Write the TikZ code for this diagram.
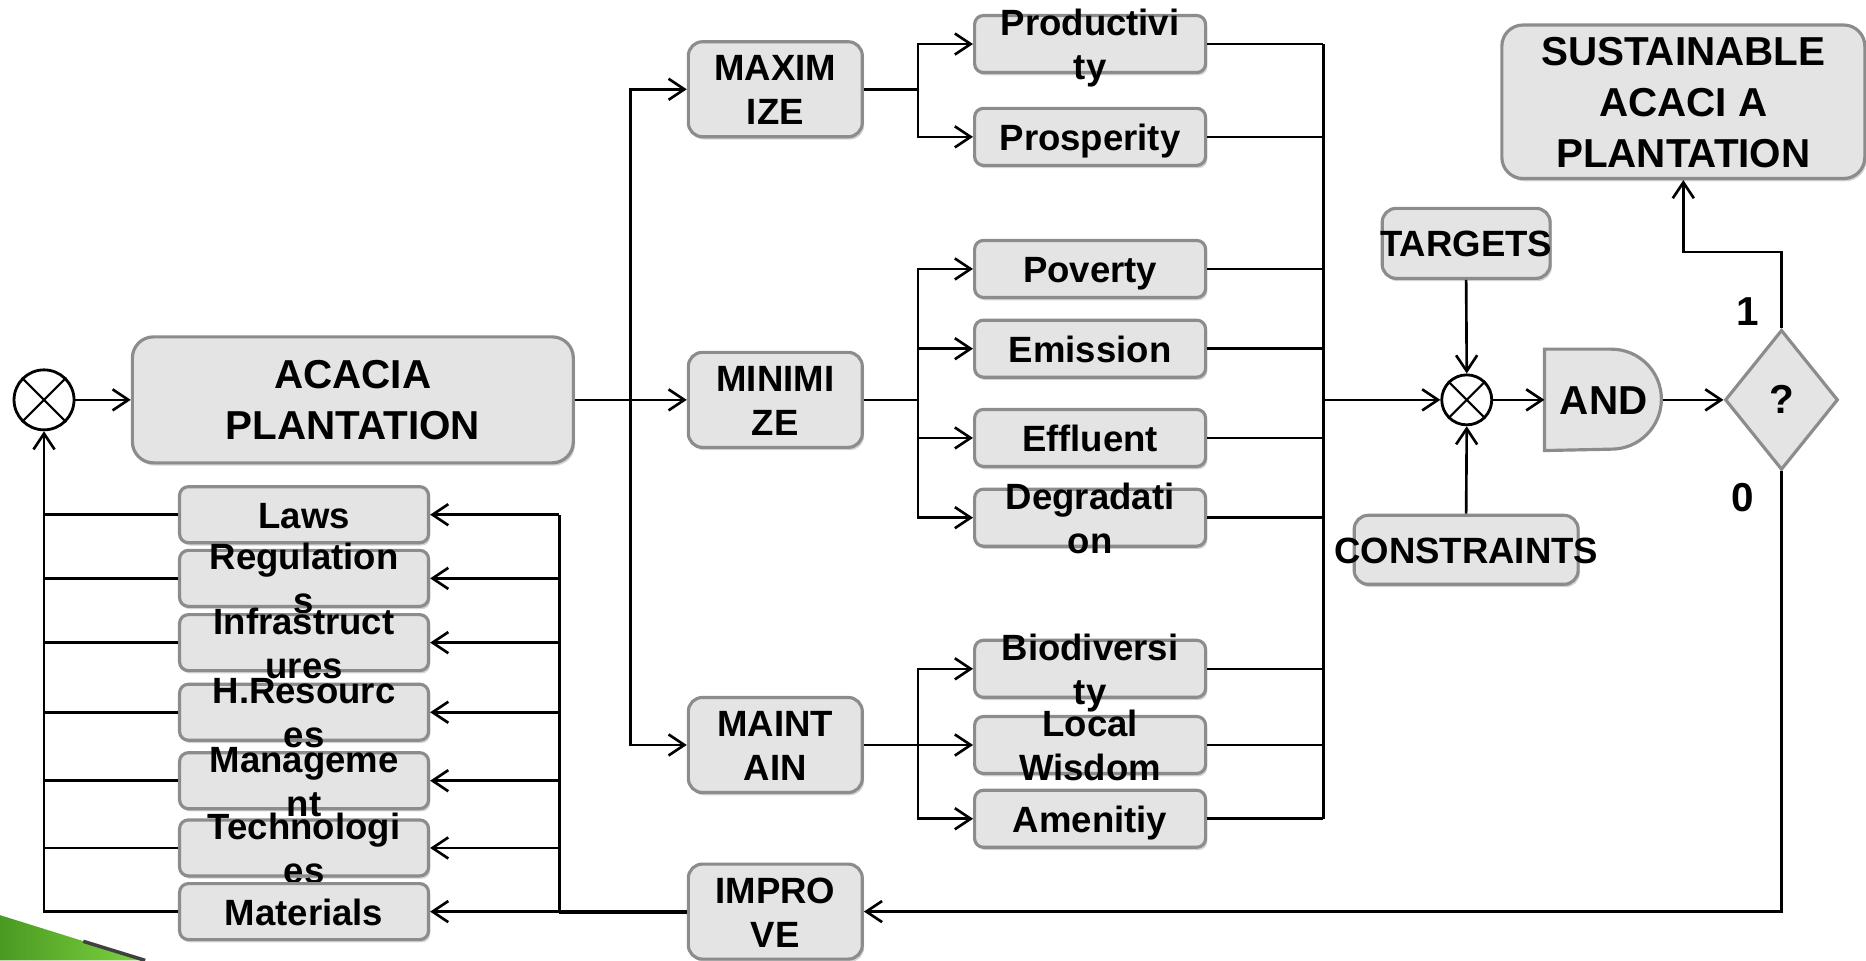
\documentclass[tikz,border=0pt]{standalone}
\usepackage{fontspec}
\setmainfont{Liberation Sans}
\usepackage{tikz}
\usetikzlibrary{shapes.geometric,arrows.meta,positioning,calc,shadows,backgrounds}
\definecolor{BoxFill}{HTML}{E4E4E4}
\definecolor{BoxEdge}{HTML}{8C8C8C}
\definecolor{LeafGreen}{HTML}{7ED340}
\definecolor{LeafDark}{HTML}{4A9A22}
\newcommand{\smallbf}{\fontsize{10.4}{12.5}\selectfont\bfseries}
\newcommand{\bigbf}{\fontsize{11.5}{14.5}\selectfont\bfseries}
% text may spill over its box
\newcommand{\spill}[1]{\raisebox{-0.37em}[0pt][0pt]{\makebox[0pt]{\begin{tabular}{@{}c@{}}#1\end{tabular}}}}
\tikzset{
  % Base box
  FB/.style={rectangle,rounded corners=2.5pt,inner sep=0pt,
             fill=BoxFill,draw=BoxEdge,line width=0.9pt,
             drop shadow={shadow xshift=0.5pt,shadow yshift=-0.8pt,opacity=0.35},
             font=\smallbf},
  % Size variants
  nR/.style={FB,minimum width=2.31cm,minimum height=0.57cm},
  nL/.style={FB,minimum width=2.49cm,minimum height=0.56cm},
  nM/.style={FB,rounded corners=4pt,minimum width=1.74cm,minimum height=0.95cm},
  nS/.style={FB,rounded corners=4pt},
  nBig/.style={FB,rounded corners=6pt,font=\bigbf},
  % Decision and gate
  DM/.style={diamond,inner sep=0pt,fill=BoxFill,draw=BoxEdge,line width=0.9pt,
             minimum width=1.13cm,minimum height=1.40cm,font=\bigbf},
  gate/.style={fill=BoxFill,draw=BoxEdge,line width=0.9pt},
  % Summing point
  SJ/.style={circle,draw,fill=white,line width=0.8pt,inner sep=0pt},
  % Connectors
  wire/.style={line width=0.75pt},
  arr/.style={wire,-{Straight Barb[length=4.5pt,width=6pt]}},
  % Labels
  LB/.style={font=\bigbf}
}
\begin{document}
\begin{tikzpicture}[x=0.0119cm,y=-0.0119cm]
  \useasboundingbox (0,0) rectangle (1568,807);
  % slide corner
  \shade[left color=LeafDark,right color=LeafGreen] (0,769) -- (122,807) -- (0,807) -- cycle;
  \draw[line width=1pt,black!75] (70,791) -- (122,807);

  % plant and goal
  \node[SJ,minimum size=0.60cm] (sum1) at (37,336) {};
  \node[nBig,minimum width=4.41cm,minimum height=1.26cm] (acacia) at (296.5,336) {\spill{ACACIA\\PLANTATION}};
  \node[nBig,minimum width=3.63cm,minimum height=1.535cm] (goal) at (1414.5,85.5) {\spill{SUSTAINABLE\\ACACI A\\PLANTATION}};

  % actions
  \node[nM] (maxi) at (651.5,75)  {\spill{MAXIM\\IZE}};
  \node[nM] (mini) at (651.5,336) {\spill{MINIMI\\ZE}};
  \node[nM] (keep) at (651.5,626) {\spill{MAINT\\AIN}};
  \node[nM] (impr) at (651.5,766) {\spill{IMPRO\\VE}};

  % indicators
  \node[nR] (prod) at (916,37)  {\spill{Productivi\\ty}};
  \node[nR] (pros) at (916,115) {\spill{Prosperity}};
  \node[nR] (pov)  at (916,226) {\spill{Poverty}};
  \node[nR] (emis) at (916,293) {\spill{Emission}};
  \node[nR] (effl) at (916,368) {\spill{Effluent}};
  \node[nR] (degr) at (916,435) {\spill{Degradati\\on}};
  \node[nR] (biod) at (916,562) {\spill{Biodiversi\\ty}};
  \node[nR] (wisd) at (916,626) {\spill{Local\\Wisdom}};
  \node[nR] (amen) at (916,688) {\spill{Amenitiy}};

  % resources
  \node[nL] (laws)  at (255.5,432.5) {\spill{Laws}};
  \node[nL] (regs)  at (255.5,486)   {\spill{Regulation\\s}};
  \node[nL] (infra) at (255.5,540)   {\spill{Infrastruct\\ures}};
  \node[nL] (hres)  at (255.5,598.5) {\spill{H.Resourc\\es}};
  \node[nL] (mgmt)  at (255.5,656)   {\spill{Manageme\\nt}};
  \node[nL] (tech)  at (255.5,712.5) {\spill{Technologi\\es}};
  \node[nL] (matl)  at (255.5,766)   {\spill{Materials}};

  % check
  \node[SJ,minimum size=0.50cm] (sum2) at (1232.5,336) {};
  \node[nS,minimum width=1.68cm,minimum height=0.70cm] (tgt)  at (1232,204.5) {\spill{TARGETS}};
  \node[nS,minimum width=2.24cm,minimum height=0.69cm] (cons) at (1232,462)   {\spill{CONSTRAINTS}};
  \node[inner sep=0pt,minimum width=1.17cm,minimum height=1.0cm,font=\bigbf] (andg) at (1347.5,336) {\spill{AND}};
  \begin{scope}[on background layer]
    \draw[gate] (andg.south west) -- (andg.north west) -- ++(0.67cm,0)
      arc[start angle=90,end angle=-90,radius=0.5cm] -- cycle;
  \end{scope}
  \node[DM] (dia) at (1497,336) {?};
  \node[LB] (one)  at (1469,262) {1};
  \node[LB] (zero) at (1464,418) {0};

  \foreach \c in {sum1,sum2}{
    \draw[line width=0.6pt] (\c.north west) -- (\c.south east);
    \draw[line width=0.6pt] (\c.north east) -- (\c.south west);
  }

  % forward path
  \draw[arr] (sum1.east) -- (acacia.west);
  \coordinate (split) at (530,336);
  \draw[wire] (acacia.east) -- (split);
  \draw[arr] (split) |- (maxi.west);
  \draw[arr] (split) -- (mini.west);
  \draw[arr] (split) |- (keep.west);
  \draw[wire] (maxi.east) -- ++(45.5,0) coordinate (bA);
  \foreach \n in {prod,pros} \draw[arr] (bA) |- (\n.west);
  \draw[wire] (mini.east) -- ++(45.5,0) coordinate (bB);
  \foreach \n in {pov,emis,effl,degr} \draw[arr] (bB) |- (\n.west);
  \draw[wire] (keep.east) -- ++(45.5,0) coordinate (bC);
  \foreach \n in {biod,wisd,amen} \draw[arr] (bC) |- (\n.west);

  % collect and test
  \coordinate (rbus) at (1112,336);
  \foreach \n in {prod,pros,pov,emis,effl,degr,biod,wisd,amen}
    \draw[wire] (\n.east) -- (\n.east -| rbus);
  \draw[wire] (prod.east -| rbus) -- (amen.east -| rbus);
  \draw[arr] (rbus) -- (sum2.west);
  \draw[arr] (tgt.south) -- (sum2.north);
  \draw[arr] (cons.north) -- (sum2.south);
  \draw[arr] (sum2.east) -- (andg.west);
  \draw[arr] (andg.east) -- (dia.west);
  \draw[arr] (dia.north) -- ++(0,-64) -| (goal.south);
  \draw[arr] (dia.south) |- (impr.east);

  % feedback
  \coordinate (lbus) at (470,766);
  \draw[wire,line width=1.1pt] (impr.west) -- (lbus);
  \draw[wire] (lbus) -- (lbus |- laws.east);
  \foreach \n in {laws,regs,infra,hres,mgmt,tech,matl}
    \draw[arr] (\n.east -| lbus) -- (\n.east);
  \foreach \n in {laws,regs,infra,hres,mgmt,tech}
    \draw[wire] (\n.west) -- (\n.west -| sum1.south);
  \draw[arr] (matl.west) -| (sum1.south);
\end{tikzpicture}
\end{document}
